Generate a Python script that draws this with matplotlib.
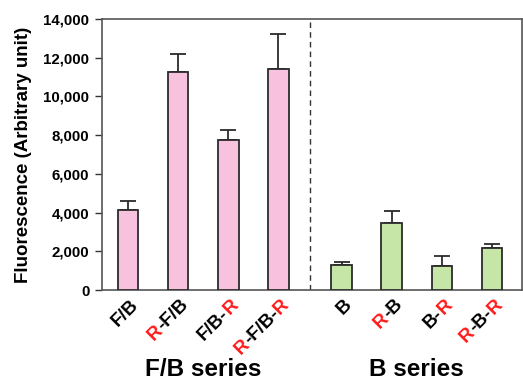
import numpy as np
import matplotlib
matplotlib.use("Agg")
import matplotlib.pyplot as plt
from matplotlib import transforms
from matplotlib.font_manager import FontProperties

# values
fb_labels = [[("F/B", "k")], [("R", "r"), ("-F/B", "k")],
             [("F/B-", "k"), ("R", "r")], [("R", "r"), ("-F/B-", "k"), ("R", "r")]]
b_labels = [[("B", "k")], [("R", "r"), ("-B", "k")],
            [("B-", "k"), ("R", "r")], [("R", "r"), ("-B-", "k"), ("R", "r")]]
fb_values = [4130, 11280, 7760, 11400]
fb_err = [470, 930, 480, 1820]
b_values = [1300, 3450, 1260, 2150]
b_err = [170, 640, 490, 210]
yticks = [0, 2000, 4000, 6000, 8000, 10000, 12000, 14000]

plt.rcParams["font.family"] = ["Liberation Sans", "DejaVu Sans"]
plt.rcParams["font.weight"] = "bold"

fig = plt.figure(figsize=(5.23, 3.80), dpi=100)
ax = fig.add_axes([102 / 523, 1 - 290 / 380, 420 / 523, 271 / 380])

fb_x = np.arange(4)
b_x = np.arange(4) + 4.26
edge = "#2b2b2b"
ax.bar(fb_x, fb_values, width=0.41, color="#f8c1de", edgecolor=edge, linewidth=1.3, zorder=3)
ax.bar(b_x, b_values, width=0.41, color="#c6e6a8", edgecolor=edge, linewidth=1.3, zorder=3)
ax.errorbar(fb_x, fb_values, yerr=[np.zeros(4), fb_err], fmt="none",
            ecolor=edge, elinewidth=1.3, capsize=5.5, capthick=1.3, zorder=2)
ax.errorbar(b_x, b_values, yerr=[np.zeros(4), b_err], fmt="none",
            ecolor=edge, elinewidth=1.3, capsize=5.5, capthick=1.3, zorder=2)

ax.axvline(3.63, color="#333333", linestyle=(0, (4, 3)), linewidth=1.0)

ax.set_xlim(-0.52, 7.86)
ax.set_ylim(0, 14000)
ax.set_yticks(yticks)
ax.set_yticklabels([f"{v:,}" for v in yticks], fontsize=10.8, fontweight="bold")
ax.set_xticks([])
ax.tick_params(axis="y", direction="out", length=5, width=1, color="#333333", pad=4)
for s in ax.spines.values():
    s.set_color("#555555")
    s.set_linewidth(1.2)

ax.set_ylabel("Fluorescence (Arbitrary unit)", fontsize=13.5, fontweight="bold")
ax.yaxis.set_label_coords(-70 / 420, 0.5)

# rotated multi-colour tick labels
renderer = fig.canvas.get_renderer()
ang = np.deg2rad(45)
colors = {"k": "black", "r": "#ff1a1a"}
prop = FontProperties(family=["Liberation Sans"], weight="bold", size=13.5)


def width_pt(s):
    w, h, d = renderer.get_text_width_height_descent(s, prop, ismath=False)
    return w * 72 / fig.dpi


for xs, labels in ((fb_x, fb_labels), (b_x, b_labels)):
    for x, pieces in zip(xs, labels):
        widths = [width_pt(t) for t, _ in pieces]
        total = sum(widths)
        pos = -total
        for (t, c), w in zip(pieces, widths):
            base = transforms.blended_transform_factory(ax.transData, ax.transAxes)
            off = transforms.ScaledTranslation(pos * np.cos(ang) / 72, pos * np.sin(ang) / 72,
                                               fig.dpi_scale_trans)
            ax.text(x + 0.16, -0.045, t, transform=base + off, rotation=45,
                    rotation_mode="anchor", ha="left", va="center",
                    fontproperties=prop, color=colors[c], clip_on=False)
            pos += w

base = transforms.blended_transform_factory(ax.transData, fig.transFigure)
ax.text(fb_x.mean(), 1 - 370 / 380, "F/B series", transform=base, ha="center",
        va="center", fontsize=17.5, fontweight="bold")
ax.text(b_x.mean(), 1 - 370 / 380, "B series", transform=base, ha="center",
        va="center", fontsize=17.5, fontweight="bold")

fig.savefig("out.png", dpi=100)
